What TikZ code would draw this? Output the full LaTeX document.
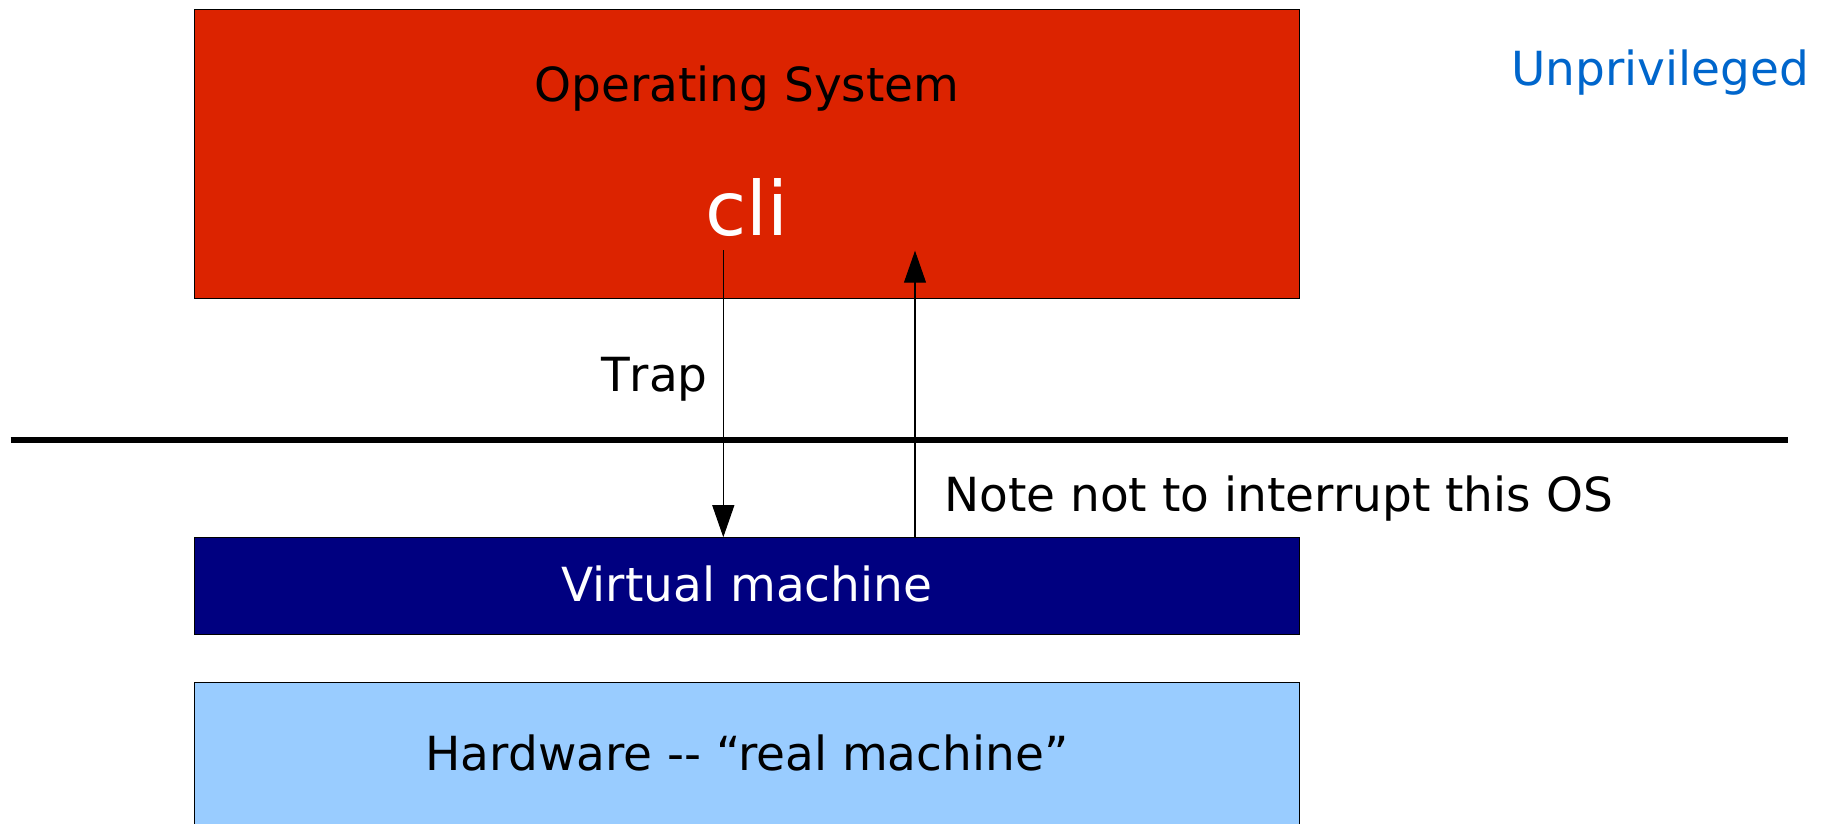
\documentclass[tikz,border=0pt]{standalone}
\usepackage{fontspec}
\setmainfont{DejaVu Sans}
\usetikzlibrary{arrows.meta}

\definecolor{osred}{HTML}{DC2300}
\definecolor{vmnavy}{HTML}{000080}
\definecolor{hwblue}{HTML}{99CCFF}
\definecolor{privblue}{HTML}{0066CC}

\begin{document}
\begin{tikzpicture}[x=1pt,y=-1pt,
  layer/.style={draw=black,line width=1pt,inner sep=0pt,minimum width=1104.7pt},
  label/.style={inner sep=0pt,font=\fontsize{47}{57}\selectfont},
  flow/.style={draw=black,line width=1.1pt,-{Triangle[width=22pt,length=32pt]}}]

\clip (0,0) rectangle (1826,823);
\fill[white] (0,0) rectangle (1826,823);

% layered boxes
\node[layer,fill=osred,minimum height=289pt] (os) at (747,153.8) {};
\node[layer,fill=vmnavy,minimum height=96.6pt] (vm) at (747,586) {};
\node[layer,fill=hwblue,minimum height=160pt] (hw) at (747,762.3) {};

% privilege boundary
\coordinate (bl) at (10.7,440);
\coordinate (br) at (1787.5,440);
\draw[line width=6pt] (bl) -- (br);

% texts
\node[label,anchor=base] (ostext) at (747,101) {Operating System};
\node[inner sep=0pt,anchor=base,text=white,font=\fontsize{75}{90}\selectfont] (cli) at (747,235.7) {cli};
\node[label,anchor=base west,text=privblue] (unpriv) at (1511,85) {Unprivileged};
\node[label,anchor=base east] (trap) at (708,391.7) {\addfontfeatures{Kerning=Off}Trap};
\node[label,anchor=base west] (note) at (944,511.7) {Note not to interrupt this OS};
\node[label,anchor=base,text=white] (vmtext) at (747,601.7) {Virtual machine};
\node[label,anchor=base] (hwtext) at (747,770) {Hardware -{}- “real machine”};

% trap and return arrows
\coordinate (trapstart) at (723.3,250);
\coordinate (retend) at (915,250.7);
\draw[flow] (trapstart) -- (trapstart |- vm.north);
\draw[flow] (retend |- vm.north) -- (retend);
\end{tikzpicture}
\end{document}
